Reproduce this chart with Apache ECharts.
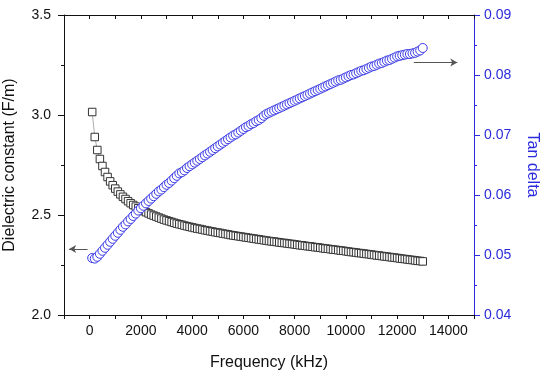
<!DOCTYPE html>
<html>
<head>
<meta charset="utf-8">
<script src="https://cdn.jsdelivr.net/npm/echarts@6/dist/echarts.min.js"></script>
<style>html,body{margin:0;padding:0;background:#fff}#c{width:551px;height:379px}</style>
</head>
<body>
<div id="c"></div>
<script>
var frequency = [100,200,300,400,500,600,700,800,900,1000,1100,1200,1300,1400,1500,1600,1700,1800,1900,2000,2100,2200,2300,2400,2500,2600,2700,2800,2900,3000,3100,3200,3300,3400,3500,3600,3700,3800,3900,4000,4100,4200,4300,4400,4500,4600,4700,4800,4900,5000,5100,5200,5300,5400,5500,5600,5700,5800,5900,6000,6100,6200,6300,6400,6500,6600,6700,6800,6900,7000,7100,7200,7300,7400,7500,7600,7700,7800,7900,8000,8100,8200,8300,8400,8500,8600,8700,8800,8900,9000,9100,9200,9300,9400,9500,9600,9700,9800,9900,10000,10100,10200,10300,10400,10500,10600,10700,10800,10900,11000,11100,11200,11300,11400,11500,11600,11700,11800,11900,12000,12100,12200,12300,12400,12500,12600,12700,12800,12900,13000];
var dielectric = [3.015,2.890,2.825,2.780,2.745,2.715,2.690,2.668,2.649,2.632,2.617,2.603,2.591,2.580,2.569,2.559,2.550,2.542,2.534,2.527,2.520,2.514,2.508,2.502,2.497,2.492,2.487,2.482,2.477,2.473,2.469,2.465,2.461,2.457,2.454,2.451,2.447,2.444,2.441,2.438,2.435,2.432,2.430,2.427,2.424,2.422,2.419,2.417,2.414,2.412,2.410,2.407,2.405,2.403,2.400,2.398,2.396,2.394,2.392,2.390,2.388,2.386,2.384,2.382,2.380,2.378,2.376,2.374,2.372,2.370,2.368,2.367,2.365,2.363,2.361,2.360,2.358,2.356,2.355,2.353,2.351,2.349,2.348,2.346,2.344,2.343,2.341,2.339,2.338,2.336,2.334,2.332,2.331,2.329,2.327,2.326,2.324,2.322,2.321,2.319,2.317,2.315,2.314,2.312,2.310,2.309,2.307,2.305,2.304,2.302,2.300,2.298,2.297,2.295,2.293,2.292,2.290,2.288,2.287,2.285,2.283,2.281,2.280,2.278,2.276,2.275,2.273,2.271,2.270,2.268];
var tanDelta = [0.0495,0.0494,0.0497,0.0502,0.0507,0.0512,0.0517,0.0522,0.0527,0.0532,0.0537,0.0542,0.0547,0.0551,0.0556,0.0560,0.0565,0.0569,0.0574,0.0578,0.0582,0.0586,0.0590,0.0594,0.0598,0.0602,0.0606,0.0609,0.0613,0.0617,0.0620,0.0624,0.0628,0.0632,0.0636,0.0638,0.0641,0.0645,0.0648,0.0651,0.0654,0.0657,0.0660,0.0663,0.0666,0.0669,0.0672,0.0675,0.0678,0.0681,0.0684,0.0687,0.0690,0.0693,0.0696,0.0699,0.0701,0.0704,0.0707,0.0710,0.0713,0.0715,0.0718,0.0720,0.0723,0.0725,0.0728,0.0732,0.0735,0.0737,0.0739,0.0741,0.0743,0.0745,0.0747,0.0749,0.0751,0.0753,0.0755,0.0757,0.0759,0.0761,0.0763,0.0765,0.0767,0.0769,0.0771,0.0773,0.0775,0.0777,0.0779,0.0781,0.0783,0.0785,0.0787,0.0789,0.0791,0.0792,0.0794,0.0796,0.0798,0.0800,0.0801,0.0803,0.0805,0.0807,0.0808,0.0810,0.0812,0.0814,0.0815,0.0817,0.0819,0.0820,0.0822,0.0824,0.0825,0.0827,0.0829,0.0831,0.0832,0.0833,0.0834,0.0835,0.0835,0.0836,0.0837,0.0839,0.0841,0.0845];
var xTickLabels = ['0','2000','4000','6000','8000','10000','12000','14000'];
var leftArrow = [[-80, 2.33], [-800, 2.33]];
var rightArrow = [[12650, 0.0821], [14350, 0.0821]];

var FONT = '"Liberation Sans", Arial, sans-serif';
var BLUE = '#2b2bdd';
function pairs(xs, ys) { return xs.map(function (x, i) { return [x, ys[i]]; }); }

var chart = echarts.init(document.getElementById('c'), null, {renderer: 'canvas'});
chart.setOption({
  animation: false,
  backgroundColor: '#fff',
  textStyle: {fontFamily: FONT},
  grid: {left: 64, right: 77, top: 15, bottom: 64, containLabel: false, outerBoundsMode: 'none'},
  xAxis: [{
    type: 'value', position: 'bottom', min: -1000, max: 15000, interval: 1000,
    name: 'Frequency (kHz)', nameLocation: 'middle', nameGap: 40,
    nameTextStyle: {fontFamily: FONT, fontSize: 16, color: '#111'},
    axisLine: {show: true, onZero: false, lineStyle: {color: '#111', width: 1}},
    axisTick: {show: true, inside: false, length: 4, lineStyle: {color: '#111'}},
    axisLabel: {fontFamily: FONT, fontSize: 14, color: '#111', margin: 9,
      showMinLabel: true, showMaxLabel: true,
      formatter: function (v) { var s = String(v); return xTickLabels.indexOf(s) >= 0 ? s : ''; }},
    splitLine: {show: false}
  }, {
    type: 'value', position: 'top', min: -1000, max: 15000, interval: 1000,
    axisLine: {show: true, onZero: false, lineStyle: {color: '#111', width: 1}},
    axisTick: {show: true, inside: true, length: 4, lineStyle: {color: '#111'}},
    axisLabel: {show: false},
    splitLine: {show: false}
  }],
  yAxis: [{
    type: 'value', position: 'left', min: 2, max: 3.5, interval: 0.5,
    name: 'Dielectric constant (F/m)', nameLocation: 'middle', nameGap: 46,
    nameTextStyle: {fontFamily: FONT, fontSize: 16, color: '#111'},
    axisLine: {show: true, onZero: false, lineStyle: {color: '#111', width: 1}},
    axisTick: {show: true, inside: false, length: 6, lineStyle: {color: '#111'}},
    minorTick: {show: true, splitNumber: 2, length: 3, lineStyle: {color: '#111'}},
    axisLabel: {fontFamily: FONT, fontSize: 14, color: '#111', margin: 13,
      formatter: function (v) { return v.toFixed(1); }},
    splitLine: {show: false}
  }, {
    type: 'value', position: 'right', min: 0.04, max: 0.09, interval: 0.01,
    name: 'Tan delta', nameLocation: 'middle', nameGap: 50, nameRotate: -90,
    nameTextStyle: {fontFamily: FONT, fontSize: 16, color: BLUE},
    axisLine: {show: true, onZero: false, lineStyle: {color: BLUE, width: 1}},
    axisTick: {show: true, inside: false, length: 6, lineStyle: {color: BLUE}},
    minorTick: {show: true, splitNumber: 2, length: 3, lineStyle: {color: BLUE}},
    axisLabel: {fontFamily: FONT, fontSize: 14, color: BLUE, margin: 10,
      formatter: function (v) { return v.toFixed(2); }},
    splitLine: {show: false}
  }],
  series: [{
    name: 'Dielectric constant', type: 'line', xAxisIndex: 0, yAxisIndex: 0,
    data: pairs(frequency, dielectric),
    symbol: 'rect', symbolSize: 7.5, showAllSymbol: true,
    itemStyle: {color: '#fff', borderColor: '#333', borderWidth: 1},
    lineStyle: {color: '#999', width: 0.8},
    markLine: {
      silent: true, symbol: ['none', 'arrow'], symbolSize: [6, 7],
      label: {show: false},
      lineStyle: {color: '#555', width: 1, type: 'solid'},
      data: [[{coord: leftArrow[0]}, {coord: leftArrow[1]}]]
    },
    z: 2
  }, {
    name: 'Tan delta', type: 'line', xAxisIndex: 0, yAxisIndex: 1,
    data: pairs(frequency, tanDelta),
    symbol: 'circle', symbolSize: 9, showAllSymbol: true,
    itemStyle: {color: '#fff', borderColor: '#3a3ae6', borderWidth: 1},
    lineStyle: {color: '#3a3ae6', width: 0.8},
    markLine: {
      silent: true, symbol: ['none', 'arrow'], symbolSize: [6, 7],
      label: {show: false},
      lineStyle: {color: '#555', width: 1, type: 'solid'},
      data: [[{coord: rightArrow[0]}, {coord: rightArrow[1]}]]
    },
    z: 3
  }]
});
</script>
</body>
</html>
